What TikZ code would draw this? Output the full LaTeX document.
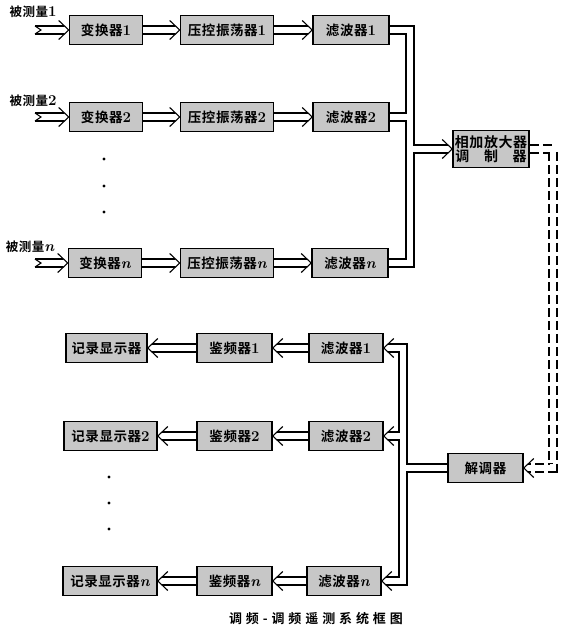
\documentclass[tikz,border=0pt]{standalone}
\usepackage{fontspec}
\usetikzlibrary{arrows.meta, positioning}
\newfontfamily\hei{Noto Sans CJK SC Bold}[LetterSpace=4]
\newfontfamily\heicap{Noto Sans CJK SC Bold}[LetterSpace=30]
\newcommand{\ix}[1]{{\normalfont\bfseries\fontsize{15}{15}\selectfont #1}}

\begin{document}
\begin{tikzpicture}[x=1pt, y=-1pt,
		box/.style={rectangle, draw=black, fill=black!22, line width=1.6pt, minimum height=29pt, inner sep=2pt, align=center, font=\hei\fontsize{13.5}{15}\selectfont},
		lbl/.style={inner sep=0pt, font=\hei\fontsize{12.5}{14}\selectfont},
		bus/.style={line width=1.1pt},
		dbl/.style={double, double distance=6.9pt, line width=1.1pt},
		hol/.style={dbl, shorten >=4.4pt},
		hR/.pic={\draw[line width=1.1pt, miter limit=20] (-10pt,9.5pt) -- (0pt,0pt) -- (-10pt,-9.5pt);},
		hL/.pic={\draw[line width=1.1pt, miter limit=20] (10pt,9.5pt) -- (0pt,0pt) -- (10pt,-9.5pt);}]
	\useasboundingbox (0,0) rectangle (568,630);
	
	% transmitting side
	\node[box, minimum width=73pt] (conv1) at (106,30) {变换器\ix{1}};
	\node[box, minimum width=93pt] (vco1) at (227,30) {压控振荡器\ix{1}};
	\node[box, minimum width=76pt] (filt1) at (351,30) {滤波器\ix{1}};
	\node[box, minimum width=73pt] (conv2) at (106,117) {变换器\ix{2}};
	\node[box, minimum width=93pt] (vco2) at (227,117) {压控振荡器\ix{2}};
	\node[box, minimum width=76pt] (filt2) at (351,117) {滤波器\ix{2}};
	\node[box, minimum width=73pt] (convn) at (105,263) {变换器\ix{\itshape n}};
	\node[box, minimum width=93pt] (vcon) at (227,263) {压控振荡器\ix{\itshape n}};
	\node[box, minimum width=76pt] (filtn) at (350,263) {滤波器\ix{\itshape n}};
	\node[box, minimum width=76pt, minimum height=37pt, inner sep=1pt, font=\hei\fontsize{14}{14.5}\selectfont] (sum) at (491,149) {相加放大器\\调\hspace{1.05em}制\hspace{1.05em}器};
	
	\node[lbl] (lab1) at (33,12) {被测量\ix{1}};
	\node[lbl] (lab2) at (33,101) {被测量\ix{2}};
	\node[lbl] (labn) at (30,247) {被测量\ix{\itshape n}};
	\coordinate (in1) at (35,30);
	\coordinate (in2) at (35,117);
	\coordinate (inn) at (35,263);
	
	\foreach \i in {1,2,n} {
		\draw[hol] (in\i) -- (conv\i);
		\pic at (conv\i.west) {hR};
		\draw[bus] ([yshift=4pt]in\i) -- ([xshift=6pt]in\i) -- ([yshift=-4pt]in\i);
		\draw[hol] (conv\i) -- (vco\i);
		\pic at (vco\i.west) {hR};
		\draw[hol] (vco\i) -- (filt\i);
		\pic at (filt\i.west) {hR};
	}
	\foreach \y in {159,186,212} \fill (104,\y) circle (1.6pt);
	
	% summing bus
	\coordinate (sa) at (440,149);
	\draw[bus] ([yshift=4pt]filt1.east) -| (414,145) -- ([yshift=4pt]sa);
	\draw[bus] ([yshift=-4pt]filt1.east) -| (406,113) -- ([yshift=4pt]filt2.east);
	\draw[bus] ([yshift=-4pt]filt2.east) -| (406,259) -- ([yshift=4pt]filtn.east);
	\draw[bus] ([yshift=-4pt]filtn.east) -| (414,153) -- ([yshift=-4pt]sa);
	\draw[hol] (sa) -- (sum.west);
	\pic at (sum.west) {hR};
	
	% receiving side
	\node[box, minimum width=75pt] (dem) at (485.5,468) {解调器};
	\node[box, minimum width=74pt] (filt1b) at (346,348) {滤波器\ix{1}};
	\node[box, minimum width=74pt] (filt2b) at (346,436) {滤波器\ix{2}};
	\node[box, minimum width=74pt] (filtnb) at (344,581) {滤波器\ix{\itshape n}};
	\node[box, minimum width=75pt] (jp1) at (234.5,348) {鉴频器\ix{1}};
	\node[box, minimum width=75pt] (jp2) at (234.5,436) {鉴频器\ix{2}};
	\node[box, minimum width=75pt] (jpn) at (234.5,581) {鉴频器\ix{\itshape n}};
	\node[box, minimum width=81pt] (rec1) at (106.5,348) {记录显示器};
	\node[box, minimum width=93pt] (rec2) at (110.5,436) {记录显示器\ix{2}};
	\node[box, minimum width=94pt] (recn) at (110,581) {记录显示器\ix{\itshape n}};
	
	\draw[hol, dash pattern=on 9pt off 4pt] (sum.east) -- (553,149) -- (553,468) -- (dem.east);
	\pic at (dem.east) {hL};
	
	\coordinate (b1) at (396,348);
	\coordinate (b2) at (396,436);
	\coordinate (bn) at (396,581);
	\draw[bus] ([yshift=4pt]dem.west) -| (407,344) -- ([yshift=4pt]b1);
	\draw[bus] ([yshift=-4pt]b1) -| (399,432) -- ([yshift=4pt]b2);
	\draw[bus] ([yshift=-4pt]b2) -| (399,577) -- ([yshift=4pt]bn);
	\draw[bus] ([yshift=-4pt]dem.west) -| (407,585) -- ([yshift=-4pt]bn);
	
	\foreach \i in {1,2,n} {
		\draw[hol] (b\i) -- (filt\i b);
		\pic at (filt\i b.east) {hL};
		\draw[hol] (filt\i b) -- (jp\i);
		\pic at (jp\i.east) {hL};
		\draw[hol] (jp\i) -- (rec\i);
		\pic at (rec\i.east) {hL};
	}
	\foreach \y in {477,503,529} \fill (109,\y) circle (1.6pt);
	
	\node[font=\heicap\fontsize{13}{15}\selectfont] (cap) at (316,619) {调频-调频遥测系统框图};
\end{tikzpicture}
\end{document}
